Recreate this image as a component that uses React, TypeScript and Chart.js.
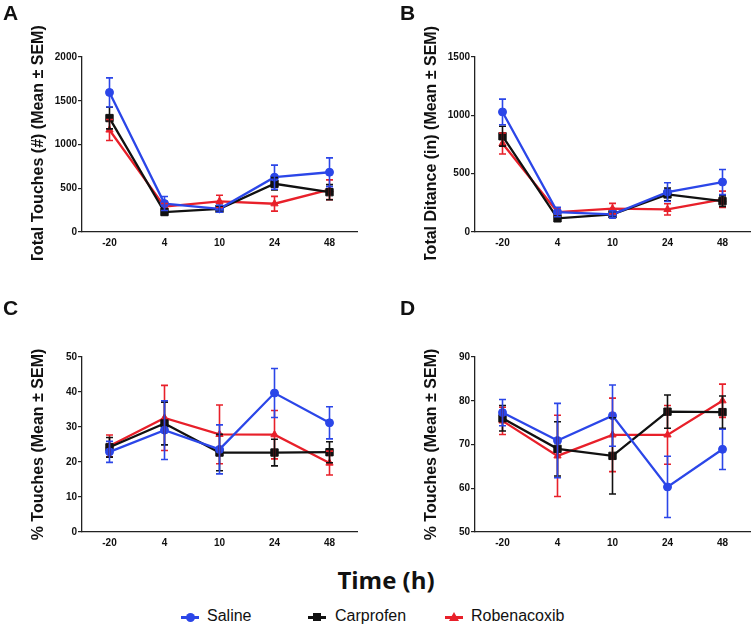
import React, { useEffect, useRef } from "react";
import { Chart, registerables } from "chart.js";

Chart.register(...registerables);

// ---- Data ----
const timeLabels = ["-20", "4", "10", "24", "48"];
const seriesNames = ["Saline", "Carprofen", "Robenacoxib"];
const seriesColors = ["#2b46e8", "#111111", "#e8202a"];
const seriesShapes = ["circle", "rect", "triangle"];

// Panel A: Total Touches (#)
const aSaline = [1595, 325, 265, 626, 683];
const aSalineErr = [167, 80, 40, 138, 164];
const aCarprofen = [1302, 228, 265, 551, 455];
const aCarprofenErr = [123, 30, 30, 70, 86];
const aRobenacoxib = [1166, 290, 350, 323, 483];
const aRobenacoxibErr = [120, 35, 70, 84, 113];

// Panel B: Total Distance (in)
const bSaline = [1029, 171, 151, 342, 428];
const bSalineErr = [110, 40, 30, 80, 108];
const bCarprofen = [821, 117, 151, 322, 265];
const bCarprofenErr = [85, 20, 25, 55, 45];
const bRobenacoxib = [758, 171, 200, 194, 280];
const bRobenacoxibErr = [90, 35, 45, 48, 70];

// Panel C: % Touches
const cSaline = [22.9, 29.1, 23.6, 39.7, 31.2];
const cSalineErr = [3.0, 8.4, 7.0, 7.0, 4.6];
const cCarprofen = [24.2, 31.0, 22.7, 22.7, 22.8];
const cCarprofenErr = [2.8, 6.1, 5.2, 3.8, 3.0];
const cRobenacoxib = [24.6, 32.6, 27.9, 27.8, 19.7];
const cRobenacoxibErr = [3.1, 9.3, 8.4, 6.9, 3.4];

// Panel D: % Touches
const dSaline = [77.3, 70.9, 76.6, 60.3, 68.9];
const dSalineErr = [3.0, 8.5, 7.0, 7.0, 4.6];
const dCarprofen = [76.0, 69.0, 67.4, 77.5, 77.4];
const dCarprofenErr = [2.9, 6.2, 8.7, 3.8, 3.7];
const dRobenacoxib = [75.4, 67.4, 72.2, 72.2, 80.0];
const dRobenacoxibErr = [3.1, 9.3, 8.4, 6.7, 3.8];

const FONT = "Arial, 'Liberation Sans', sans-serif";

const errorBarPlugin = {
  id: "errorBars",
  afterDatasetsDraw(chart: any) {
    const { ctx } = chart;
    const yScale = chart.scales.y;
    const n = chart.data.datasets.length;
    for (let i = n - 1; i >= 0; i--) {
      const ds = chart.data.datasets[i];
      const meta = chart.getDatasetMeta(i);
      const errs: number[] = ds.errors || [];
      ctx.save();
      ctx.strokeStyle = ds.borderColor;
      ctx.lineWidth = 1.6;
      const cap = 3.5;
      meta.data.forEach((pt: any, j: number) => {
        const v = ds.data[j];
        const e = errs[j] || 0;
        const x = pt.x;
        const yTop = yScale.getPixelForValue(v + e);
        const yBot = yScale.getPixelForValue(v - e);
        ctx.beginPath();
        ctx.moveTo(x, yTop);
        ctx.lineTo(x, yBot);
        ctx.moveTo(x - cap, yTop);
        ctx.lineTo(x + cap, yTop);
        ctx.moveTo(x - cap, yBot);
        ctx.lineTo(x + cap, yBot);
        ctx.stroke();
      });
      ctx.restore();
    }
  },
};

type PanelProps = {
  left: number;
  top: number;
  yTitle: string;
  yMin: number;
  yMax: number;
  yStep: number;
  values: number[][];
  errors: number[][];
};

function Panel({ left, top, yTitle, yMin, yMax, yStep, values, errors }: PanelProps) {
  const ref = useRef<HTMLCanvasElement | null>(null);
  useEffect(() => {
    if (!ref.current) return;
    const radii = [4, 5.2, 4.2];
    const chart = new Chart(ref.current, {
      type: "line",
      data: {
        labels: timeLabels,
        datasets: values.map((vals, i) => ({
          label: seriesNames[i],
          data: vals,
          errors: errors[i],
          borderColor: seriesColors[i],
          backgroundColor: seriesColors[i],
          pointBackgroundColor: seriesColors[i],
          pointBorderColor: seriesColors[i],
          pointStyle: seriesShapes[i],
          pointRadius: radii[i],
          pointBorderWidth: 1,
          borderWidth: 2.3,
          tension: 0,
          fill: false,
        })) as any,
      },
      options: {
        animation: false,
        responsive: false,
        layout: { padding: { top: 57, right: 13, left: 0, bottom: 0 } },
        plugins: {
          legend: { display: false },
          tooltip: { enabled: false },
        },
        scales: {
          x: {
            type: "category",
            offset: true,
            grid: { display: true, drawOnChartArea: false, drawTicks: false, color: "#222" },
            border: { display: true, color: "#222", width: 1.3 },
            ticks: {
              color: "#111",
              font: { family: FONT, size: 10, weight: "bold" },
              padding: 5,
              maxRotation: 0,
            },
            afterFit: (s: any) => {
              s.height = 28;
            },
          },
          y: {
            min: yMin,
            max: yMax,
            ticks: {
              stepSize: yStep,
              color: "#111",
              font: { family: FONT, size: 10, weight: "bold" },
              padding: 1,
              callback: (v: any) => String(v),
            },
            grid: {
              display: true,
              drawOnChartArea: false,
              drawTicks: true,
              tickLength: 4,
              color: "#222",
              lineWidth: 1.2,
            },
            border: { display: true, color: "#222", width: 1.3 },
            title: {
              display: true,
              text: yTitle,
              color: "#111",
              font: { family: FONT, size: 16, weight: "bold" },
              padding: { top: 29, bottom: 0 },
            },
            afterFit: (s: any) => {
              s.width = 82;
            },
          },
        },
      } as any,
      plugins: [errorBarPlugin as any],
    });
    return () => chart.destroy();
  }, []);
  return (
    <canvas
      ref={ref}
      width={370}
      height={260}
      style={{ position: "absolute", left, top, width: 370, height: 260 }}
    />
  );
}

const letterStyle = (left: number, top: number): React.CSSProperties => ({
  position: "absolute",
  left,
  top,
  fontFamily: FONT,
  fontWeight: "bold",
  fontSize: 21,
  lineHeight: "21px",
  color: "#111",
});

function LegendItem({ x, textX, color, shape, name }: { x: number; textX: number; color: string; shape: string; name: string }) {
  const cy = 617;
  let marker: React.ReactNode;
  if (shape === "circle") {
    marker = (
      <div style={{ position: "absolute", left: x - 4.5, top: cy - 4.5, width: 9, height: 9, borderRadius: "50%", background: color }} />
    );
  } else if (shape === "rect") {
    marker = <div style={{ position: "absolute", left: x - 4, top: cy - 4, width: 8, height: 8, background: color }} />;
  } else {
    marker = (
      <div
        style={{
          position: "absolute",
          left: x - 5,
          top: cy - 5,
          width: 10,
          height: 9,
          background: color,
          clipPath: "polygon(50% 0%, 100% 100%, 0% 100%)",
        }}
      />
    );
  }
  return (
    <>
      <div style={{ position: "absolute", left: x - 9, top: cy - 1.5, width: 18, height: 3, background: color }} />
      {marker}
      <div
        style={{
          position: "absolute",
          left: textX,
          top: 608,
          fontFamily: FONT,
          fontSize: 16,
          lineHeight: "16px",
          color: "#111",
          whiteSpace: "nowrap",
        }}
      >
        {name}
      </div>
    </>
  );
}

export default function App() {
  return (
    <div
      style={{
        position: "absolute",
        left: 0,
        top: 0,
        width: 756,
        height: 625,
        background: "#fff",
        overflow: "hidden",
      }}
    >
      <Panel
        left={0}
        top={0}
        yTitle="Total Touches (#) (Mean ± SEM)"
        yMin={0}
        yMax={2000}
        yStep={500}
        values={[aSaline, aCarprofen, aRobenacoxib]}
        errors={[aSalineErr, aCarprofenErr, aRobenacoxibErr]}
      />
      <Panel
        left={393}
        top={0}
        yTitle="Total Ditance (in) (Mean ± SEM)"
        yMin={0}
        yMax={1500}
        yStep={500}
        values={[bSaline, bCarprofen, bRobenacoxib]}
        errors={[bSalineErr, bCarprofenErr, bRobenacoxibErr]}
      />
      <Panel
        left={0}
        top={300}
        yTitle="% Touches (Mean ± SEM)"
        yMin={0}
        yMax={50}
        yStep={10}
        values={[cSaline, cCarprofen, cRobenacoxib]}
        errors={[cSalineErr, cCarprofenErr, cRobenacoxibErr]}
      />
      <Panel
        left={393}
        top={300}
        yTitle="% Touches (Mean ± SEM)"
        yMin={50}
        yMax={90}
        yStep={10}
        values={[dSaline, dCarprofen, dRobenacoxib]}
        errors={[dSalineErr, dCarprofenErr, dRobenacoxibErr]}
      />
      <div style={letterStyle(3, 2)}>A</div>
      <div style={letterStyle(400, 2)}>B</div>
      <div style={letterStyle(3, 297)}>C</div>
      <div style={letterStyle(400, 297)}>D</div>
      <div
        style={{
          position: "absolute",
          left: 286,
          width: 200,
          top: 565,
          textAlign: "center",
          fontFamily: "'Open Sans', Arial, sans-serif",
          fontWeight: "bold",
          fontSize: 24,
          lineHeight: "30px",
          color: "#111",
        }}
      >
        Time (h)
      </div>
      <LegendItem x={190} textX={207} color={seriesColors[0]} shape="circle" name={seriesNames[0]} />
      <LegendItem x={317} textX={335} color={seriesColors[1]} shape="rect" name={seriesNames[1]} />
      <LegendItem x={454} textX={471} color={seriesColors[2]} shape="triangle" name={seriesNames[2]} />
    </div>
  );
}
